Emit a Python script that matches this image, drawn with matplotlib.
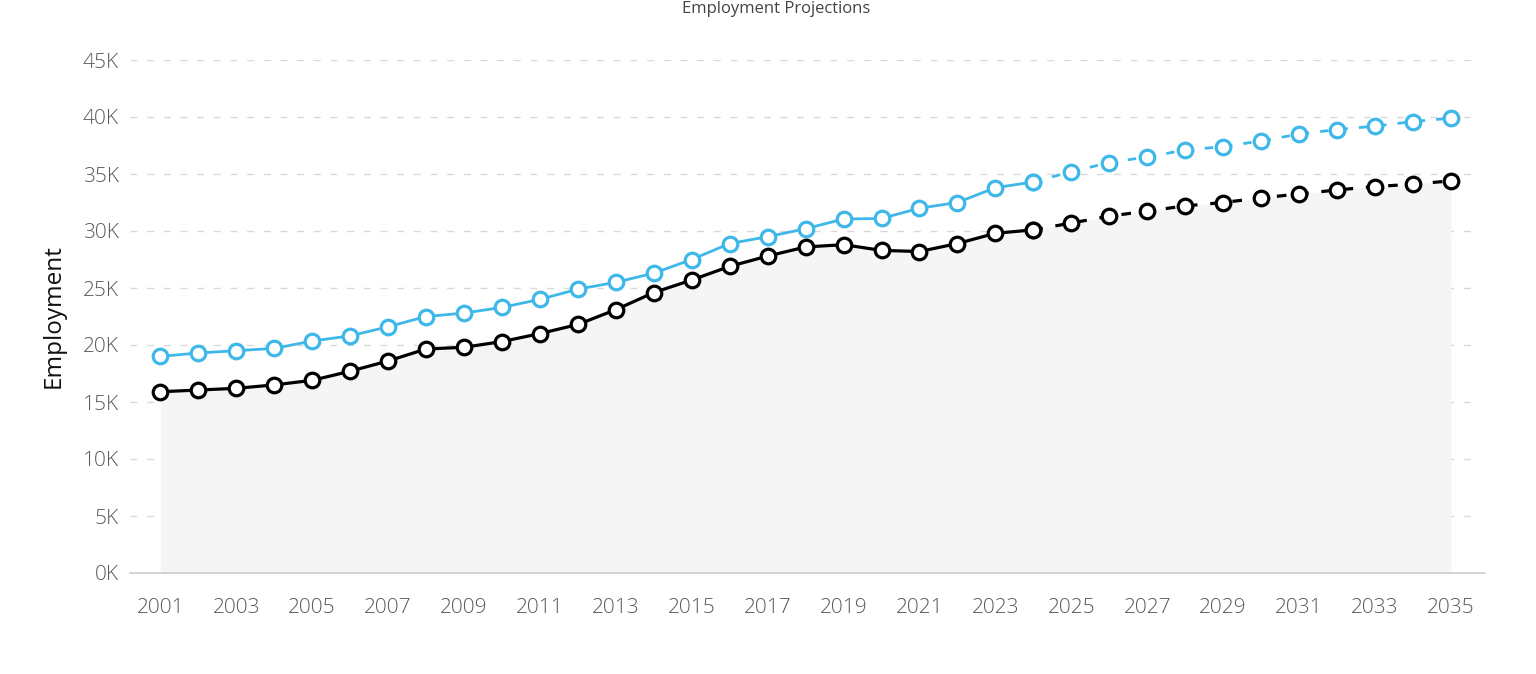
import matplotlib
matplotlib.use("Agg")
import matplotlib.pyplot as plt
import numpy as np

years = list(range(2001, 2036))
series_blue = [19.0, 19.3, 19.5, 19.7, 20.35, 20.8, 21.6, 22.5, 22.8, 23.3, 24.0, 24.9,
               25.5, 26.3, 27.5, 28.9, 29.5, 30.2, 31.05, 31.1, 32.0, 32.5, 33.8, 34.3,
               35.2, 36.0, 36.5, 37.1, 37.4, 37.9, 38.5, 38.9, 39.2, 39.6, 39.9]
series_black = [15.9, 16.05, 16.2, 16.5, 16.9, 17.7, 18.6, 19.65, 19.8, 20.3, 21.0, 21.8,
                23.1, 24.6, 25.7, 26.9, 27.8, 28.6, 28.8, 28.3, 28.2, 28.9, 29.8, 30.1,
                30.7, 31.3, 31.75, 32.2, 32.5, 32.9, 33.25, 33.6, 33.9, 34.1, 34.4]
last_actual_year = 2024
yticks = [0, 5, 10, 15, 20, 25, 30, 35, 40, 45]
ytick_labels = ["0K", "5K", "10K", "15K", "20K", "25K", "30K", "35K", "40K", "45K"]
xtick_years = list(range(2001, 2036, 2))
title_text = "Employment Projections"
ylabel_text = "Employment"

plt.rcParams['font.family'] = ['Open Sans', 'DejaVu Sans']

fig = plt.figure(figsize=(15.36, 6.74), dpi=100)
ax = fig.add_axes([130/1536, 1 - 573/674, (1485 - 130)/1536, (573 - 60)/674])

x = np.array(years)
yb = np.array(series_blue) * 1000
yk = np.array(series_black) * 1000
k = years.index(last_actual_year)

ax.fill_between(x, 0, yk, color='#f5f5f5', zorder=1, linewidth=0)

blue = '#3db8e8'
mk = dict(marker='o', markersize=10.5, markerfacecolor='white', markeredgewidth=2.3)
ax.plot(x[:k+1], yb[:k+1], color=blue, lw=2.0, markeredgecolor=blue, zorder=4, **mk)
ax.plot(x[k:], yb[k:], color=blue, lw=2.0, ls=(0, (3, 4)), markeredgecolor=blue, zorder=4, **mk)
ax.plot(x[:k+1], yk[:k+1], color='black', lw=2.3, markeredgecolor='black', zorder=5, **mk)
ax.plot(x[k:], yk[k:], color='black', lw=2.3, ls=(0, (3, 4)), markeredgecolor='black', zorder=5, **mk)

ax.set_xlim(2000.2, 2035.9)
ax.set_ylim(0, 45000)
ax.set_yticks([v * 1000 for v in yticks])
ax.set_yticklabels(ytick_labels)
ax.set_xticks(xtick_years)
ax.set_xticklabels([str(v) for v in xtick_years])

for v in yticks[1:]:
    ax.axhline(v * 1000, xmin=0, xmax=0.99, color='#d9d9d9', lw=1.0, ls=(0, (5, 7)), zorder=0)

for s in ['top', 'right', 'left']:
    ax.spines[s].set_visible(False)
ax.spines['bottom'].set_color('#cccccc')
ax.spines['bottom'].set_linewidth(1.2)
ax.tick_params(axis='both', length=0, labelsize=15, colors='#5a5a5a')
ax.tick_params(axis='y', pad=8)
ax.tick_params(axis='x', pad=18)
for lab in ax.get_xticklabels() + ax.get_yticklabels():
    lab.set_fontweight('light')
ax.set_ylabel(ylabel_text, fontsize=17.5, color='#111111', labelpad=12)

fig.text(0.505, 0.998, title_text, ha='center', va='top', fontsize=12, color='#444444')

fig.savefig('out.png', dpi=100, facecolor='white')
